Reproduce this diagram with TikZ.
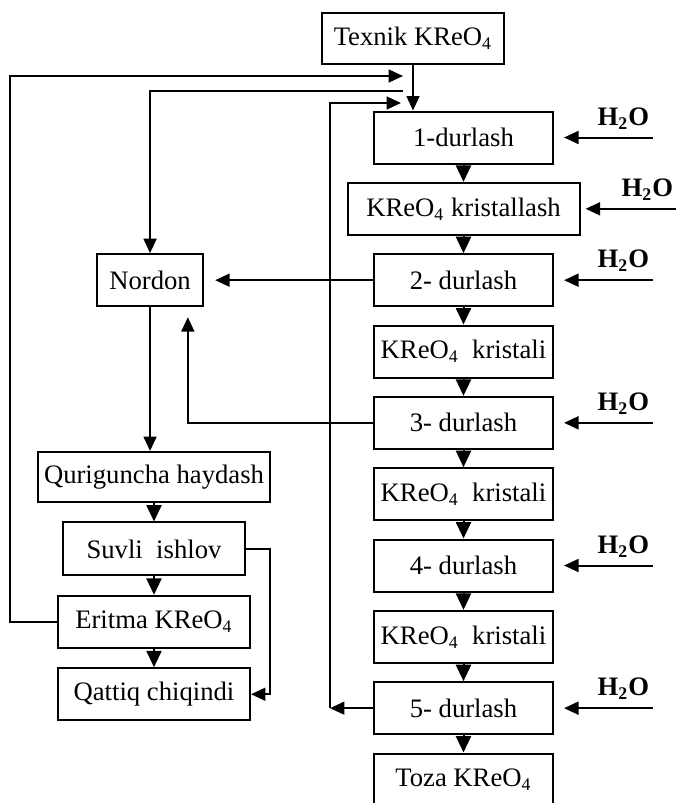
\documentclass[tikz,border=0pt]{standalone}
\usepackage{fontspec}
\setmainfont{Liberation Serif}
\usetikzlibrary{arrows.meta,positioning}

\begin{document}
\begin{tikzpicture}[x=0.45pt,y=-0.45pt,font=\fontsize{12}{14}\selectfont,
  line width=0.9pt,>={Triangle[length=6.5pt,width=5.8pt]},
  b/.style={draw,inner sep=2pt,minimum height=23.4pt,align=center},
  rb/.style={b,minimum width=80.6pt},
  flow/.style={-{Triangle[length=7.4pt,width=6.8pt]}},
  h2o/.style={above,pos=0.3,font=\fontsize{12}{14}\selectfont\bfseries}]
  \useasboundingbox (0,0) rectangle (676,803);
  \node[b,minimum width=81.9pt,minimum height=23pt] (tex) at (413,38.5) {Texnik KReO\textsubscript{4}};
  \node[rb] (d1) at (463.5,137.5) {1-durlash};
  \node[b,minimum width=104.4pt,below=7.8pt of d1] (kr) {KReO\textsubscript{4} kristallash};
  \node[rb,below=7.8pt of kr] (d2) {2- durlash};
  \node[rb,below=7.8pt of d2] (k1) {KReO\textsubscript{4}\ \ kristali};
  \node[rb,below=7.8pt of k1] (d3) {3- durlash};
  \node[rb,below=7.8pt of d3] (k2) {KReO\textsubscript{4}\ \ kristali};
  \node[rb,below=7.8pt of k2] (d4) {4- durlash};
  \node[rb,below=7.8pt of d4] (k3) {KReO\textsubscript{4}\ \ kristali};
  \node[rb,below=7.8pt of k3] (d5) {5- durlash};
  \node[rb,below=7.8pt of d5] (toza) {Toza KReO\textsubscript{4}};

  \node[b,minimum width=47.7pt,left=76pt of d2] (nordon) {Nordon};
  \node[b,minimum width=104.4pt,minimum height=22.5pt] (qur) at (154,477) {Quriguncha haydash};
  \node[b,minimum width=81.9pt,minimum height=23.8pt,below=8.3pt of qur] (suv) {Suvli\ \ ishlov};
  \node[b,minimum width=86.4pt,below=8.3pt of suv] (eri) {Eritma KReO\textsubscript{4}};
  \node[b,minimum width=86.4pt,below=8.3pt of eri] (qat) {Qattiq chiqindi};

  \coordinate (lft) at (9.5,76);
  \coordinate (in1) at (403,76);
  \coordinate (in2) at (403,91);
  \coordinate (rt) at (330,103);
  \coordinate (in3) at (401,103);

  \draw[->] (tex.south) -- (tex.south |- d1.north);
  \draw[->] (eri.west) -| (lft) -- (in1);
  \draw[->] (in2) -| (nordon.north);
  \draw[->] (d5.west) -- (d5.west -| rt);
  \draw[->] (d5.west -| rt) -- (rt) -- (in3);
  \draw[->,shorten >=5pt] (d2.west) -- (nordon.east);
  \draw[->,shorten >=4.5pt] (d3.west) -| ([xshift=17pt]nordon.south);
  \draw[->] (nordon.south) -- (nordon.south |- qur.north);
  \draw[->] (suv.east) -- ++(24,0) |- (qat.east);
  \foreach \u/\v in {d1/kr,kr/d2,d2/k1,k1/d3,d3/k2,k2/d4,d4/k3,k3/d5,d5/toza,qur/suv,suv/eri,eri/qat}
    \draw[flow] (\u) -- (\v);

  \foreach \n in {d1,d2,d3,d4,d5}{
    \coordinate (w\n) at (653,0 |- \n.east);
    \draw[->,shorten >=4.5pt] (w\n) -- node[h2o]{H\textsubscript{2}O} (\n.east);
  }
  \coordinate (wkr) at (676,0 |- kr.east);
  \draw[->,shorten >=2.3pt] (wkr) -- node[h2o]{H\textsubscript{2}O} (kr.east);
\end{tikzpicture}
\end{document}
